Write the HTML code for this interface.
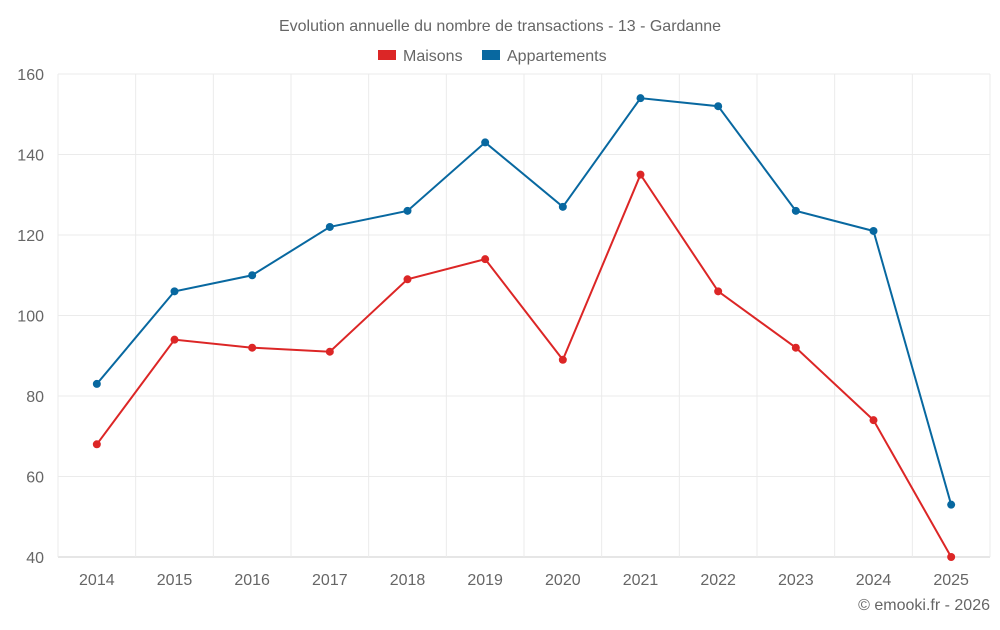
<!DOCTYPE html>
<html><head><meta charset="utf-8"><style>
body{margin:0;background:#fff;font-family:"Liberation Sans",sans-serif;}
svg text{font-family:"Liberation Sans",sans-serif;fill:#666;}
</style></head><body>
<svg id="chart" width="1000" height="625">
<text x="500" y="31" text-anchor="middle" font-size="16">Evolution annuelle du nombre de transactions - 13 - Gardanne</text>
<g>
<rect x="378" y="50" width="18" height="10" fill="#dc2626"/>
<text x="403" y="61" font-size="16">Maisons</text>
<rect x="482" y="50" width="18" height="10" fill="#0868a0"/>
<text x="507" y="61" font-size="16">Appartements</text>
</g>
<g id="grid"></g><g id="axes"></g><g id="series"></g>
<text x="990" y="610" text-anchor="end" font-size="16">© emooki.fr - 2026</text>
</svg>
<script>
const categories=["2014","2015","2016","2017","2018","2019","2020","2021","2022","2023","2024","2025"];
const maisons=[68,94,92,91,109,114,89,135,106,92,74,40];
const appartements=[83,106,110,122,126,143,127,154,152,126,121,53];
const yTicks=[40,60,80,100,120,140,160];
const L=58,R=990,T=74,B=557,yMin=40,yMax=160;
const band=(R-L)/categories.length;
const x=i=>L+band*(i+0.5);
const y=v=>B-(v-yMin)/(yMax-yMin)*(B-T);
const NS="http://www.w3.org/2000/svg";
function mk(tag,attrs,parent){const e=document.createElementNS(NS,tag);for(const k in attrs)e.setAttribute(k,attrs[k]);parent.appendChild(e);return e;}
const grid=document.getElementById('grid'),axes=document.getElementById('axes'),ser=document.getElementById('series');
yTicks.forEach(t=>{
 const l=mk('line',{x1:L,x2:R,y1:y(t),y2:y(t),stroke:t===yMin?'#ccc':'#ebebeb'},grid);
 
 
 const tx=mk('text',{x:44,y:y(t)+6,'text-anchor':'end','font-size':16},axes);tx.textContent=t;
 
 
});
for(let i=0;i<=categories.length;i++){
 const l=mk('line',{x1:L+band*i,x2:L+band*i,y1:T,y2:B,stroke:'#ebebeb'},grid);
 
 
}
categories.forEach((c,i)=>{
 const tx=mk('text',{x:x(i),y:585,'text-anchor':'middle','font-size':16},axes);tx.textContent=c;
 
 
});
function draw(vals,color,name){
 const p=mk('polyline',{points:vals.map((v,i)=>x(i)+','+y(v)).join(' '),fill:'none',stroke:color,'stroke-width':2},ser);
 
 
 vals.forEach((v,i)=>{
  const c=mk('circle',{cx:x(i),cy:y(v),r:4,fill:color},ser);
  
  
 });
}
draw(appartements,'#0868a0','appartements');
draw(maisons,'#dc2626','maisons');
</script>
</body></html>
